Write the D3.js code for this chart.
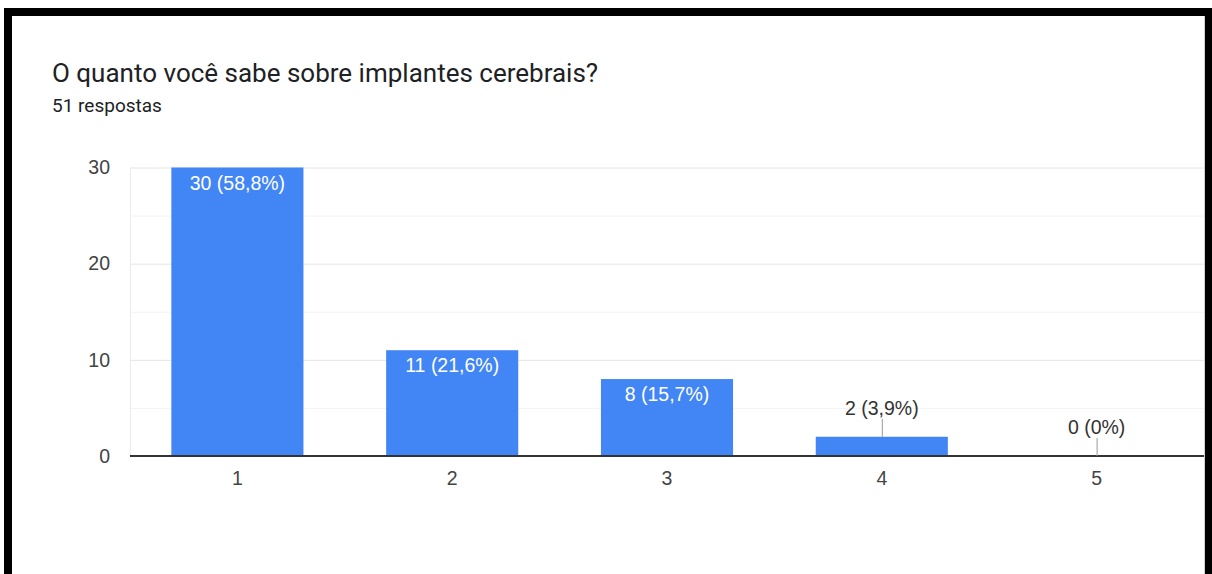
<!DOCTYPE html>
<html>
<head>
<meta charset="utf-8">
<script src="https://cdn.jsdelivr.net/npm/d3@7/dist/d3.min.js"></script>
<style>
  html, body { margin: 0; padding: 0; background: #fff; }
  svg { display: block; }
</style>
</head>
<body>
<svg id="chart" width="1212" height="574"></svg>
<script>
// Survey answers: how much respondents know about brain implants (scale 1–5)
const categories = ["1", "2", "3", "4", "5"];
const counts = [30, 11, 8, 2, 0];
const percentLabels = ["58,8%", "21,6%", "15,7%", "3,9%", "0%"];
const yTicks = [0, 10, 20, 30];
const yMinorTicks = [5, 15, 25];
const title = "O quanto você sabe sobre implantes cerebrais?";
const subtitle = "51 respostas";

const svg = d3.select("#chart");
const W = 1212, H = 574;

svg.append("rect").attr("width", W).attr("height", H).attr("fill", "#fff");

// Frame around the card
svg.append("rect").attr("x", 4).attr("y", 8).attr("width", W - 4).attr("height", 8).attr("fill", "#000");
svg.append("rect").attr("x", 4).attr("y", 8).attr("width", 8).attr("height", H - 8).attr("fill", "#000");
svg.append("rect").attr("x", 1205).attr("y", 8).attr("width", 7).attr("height", H - 8).attr("fill", "#000");
svg.append("line").attr("x1", 1204.5).attr("x2", 1204.5).attr("y1", 16).attr("y2", H)
  .attr("stroke", "#d0d0d0").attr("stroke-width", 1);

// Heading
svg.append("text").attr("x", 52).attr("y", 82)
  .attr("font-family", "Roboto, sans-serif").attr("font-size", 26)
  .attr("fill", "#202124").text(title);
svg.append("text").attr("x", 52).attr("y", 112)
  .attr("font-family", "Roboto, sans-serif").attr("font-size", 19)
  .attr("fill", "#202124").text(subtitle);

const plot = { left: 130, right: 1204, top: 167.5, bottom: 456 };

const x = d3.scaleBand()
  .domain(categories)
  .range([plot.left, plot.right])
  .paddingInner(0.385)
  .paddingOuter(0.1925);

const y = d3.scaleLinear().domain([0, 30]).range([plot.bottom, plot.top]);

const chartFont = "'Liberation Sans', Arial, sans-serif";
const chartFontSize = 19.5;

// Gridlines
svg.append("g").selectAll("line").data(yMinorTicks).join("line")
  .attr("x1", plot.left).attr("x2", plot.right)
  .attr("y1", d => y(d) + 0.5).attr("y2", d => y(d) + 0.5)
  .attr("stroke", "#f3f3f3").attr("stroke-width", 1);
svg.append("g").selectAll("line").data(yTicks.filter(d => d > 0)).join("line")
  .attr("x1", plot.left).attr("x2", plot.right)
  .attr("y1", d => y(d) + 0.5).attr("y2", d => y(d) + 0.5)
  .attr("stroke", "#e6e6e6").attr("stroke-width", 1);
svg.append("line")
  .attr("x1", plot.left + 0.5).attr("x2", plot.left + 0.5)
  .attr("y1", plot.top).attr("y2", plot.bottom)
  .attr("stroke", "#ececec").attr("stroke-width", 1);

// Y axis labels
const yAxis = d3.axisLeft(y).tickValues(yTicks).tickSize(0).tickPadding(20);
const gy = svg.append("g").attr("transform", `translate(${plot.left},0)`).call(yAxis);
gy.select(".domain").remove();
gy.selectAll("text").attr("font-family", chartFont).attr("font-size", chartFontSize).attr("fill", "#444");

// Bars
const data = categories.map((c, i) => ({ cat: c, value: counts[i], pct: percentLabels[i] }));
svg.append("g").selectAll("rect").data(data).join("rect")
  .attr("x", d => x(d.cat))
  .attr("y", d => y(d.value))
  .attr("width", x.bandwidth())
  .attr("height", d => plot.bottom - y(d.value))
  .attr("fill", "#4285f4");

// Baseline
svg.append("line")
  .attr("x1", plot.left).attr("x2", plot.right)
  .attr("y1", plot.bottom).attr("y2", plot.bottom)
  .attr("stroke", "#333").attr("stroke-width", 2);

// X axis labels
const xAxis = d3.axisBottom(x).tickSize(0).tickPadding(15);
const gx = svg.append("g").attr("transform", `translate(0,${plot.bottom})`).call(xAxis);
gx.select(".domain").remove();
gx.selectAll("text").attr("font-family", chartFont).attr("font-size", chartFontSize).attr("fill", "#444");

// Value labels: inside tall bars, above short bars with a leader line
const insideMin = 5;
const labels = svg.append("g").attr("font-family", chartFont).attr("font-size", chartFontSize).attr("text-anchor", "middle");
data.forEach(d => {
  const cx = x(d.cat) + x.bandwidth() / 2;
  const top = y(d.value);
  const txt = `${d.value} (${d.pct})`;
  if (d.value >= insideMin) {
    labels.append("text").attr("x", cx).attr("y", top + 22).attr("fill", "#fff").text(txt);
  } else {
    const lineTop = top - 18;
    labels.append("line").attr("x1", cx + 0.5).attr("x2", cx + 0.5)
      .attr("y1", lineTop).attr("y2", top)
      .attr("stroke", "#999").attr("stroke-width", 1);
    labels.append("text").attr("x", cx).attr("y", lineTop - 4).attr("fill", "#333").text(txt);
  }
});
</script>
</body>
</html>
